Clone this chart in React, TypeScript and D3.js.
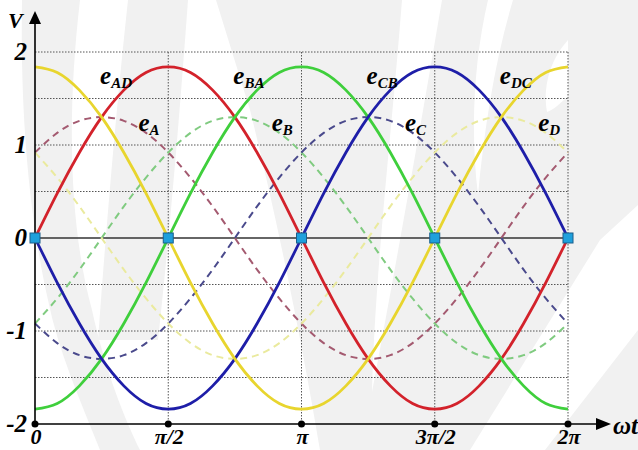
import React from "react";
import * as d3 from "d3";

// Phase angles sampled every π/12 over one period (0 … 2π)
const STEPS = 24;
const theta = d3.range(STEPS + 1).map((k) => (k * Math.PI) / 12);

// Line-to-line voltages (solid curves)
const eAD = [0, 0.48, 0.92, 1.3, 1.59, 1.78, 1.84, 1.78, 1.59, 1.3, 0.92, 0.48, 0, -0.48, -0.92, -1.3, -1.59, -1.78, -1.84, -1.78, -1.59, -1.3, -0.92, -0.48, 0];
const eBA = [-1.84, -1.78, -1.59, -1.3, -0.92, -0.48, 0, 0.48, 0.92, 1.3, 1.59, 1.78, 1.84, 1.78, 1.59, 1.3, 0.92, 0.48, 0, -0.48, -0.92, -1.3, -1.59, -1.78, -1.84];
const eCB = [0, -0.48, -0.92, -1.3, -1.59, -1.78, -1.84, -1.78, -1.59, -1.3, -0.92, -0.48, 0, 0.48, 0.92, 1.3, 1.59, 1.78, 1.84, 1.78, 1.59, 1.3, 0.92, 0.48, 0];
const eDC = [1.84, 1.78, 1.59, 1.3, 0.92, 0.48, 0, -0.48, -0.92, -1.3, -1.59, -1.78, -1.84, -1.78, -1.59, -1.3, -0.92, -0.48, 0, 0.48, 0.92, 1.3, 1.59, 1.78, 1.84];

// Phase voltages (dashed curves)
const eA = [0.92, 1.13, 1.26, 1.3, 1.26, 1.13, 0.92, 0.65, 0.34, 0, -0.34, -0.65, -0.92, -1.13, -1.26, -1.3, -1.26, -1.13, -0.92, -0.65, -0.34, 0, 0.34, 0.65, 0.92];
const eB = [-0.92, -0.65, -0.34, 0, 0.34, 0.65, 0.92, 1.13, 1.26, 1.3, 1.26, 1.13, 0.92, 0.65, 0.34, 0, -0.34, -0.65, -0.92, -1.13, -1.26, -1.3, -1.26, -1.13, -0.92];
const eC = [-0.92, -1.13, -1.26, -1.3, -1.26, -1.13, -0.92, -0.65, -0.34, 0, 0.34, 0.65, 0.92, 1.13, 1.26, 1.3, 1.26, 1.13, 0.92, 0.65, 0.34, 0, -0.34, -0.65, -0.92];
const eD = [0.92, 0.65, 0.34, 0, -0.34, -0.65, -0.92, -1.13, -1.26, -1.3, -1.26, -1.13, -0.92, -0.65, -0.34, 0, 0.34, 0.65, 0.92, 1.13, 1.26, 1.3, 1.26, 1.13, 0.92];

const yTicks = [2, 1, 0, -1, -2];
const yGrid = [2, 1.5, 1, 0.5, -0.5, -1, -1.5];
const xTickValues = [0, Math.PI / 2, Math.PI, (3 * Math.PI) / 2, 2 * Math.PI];
const xTickLabels = ["0", "π/2", "π", "3π/2", "2π"];

const solidSeries = [
  { name: "AD", values: eAD, color: "#d3222b" },
  { name: "BA", values: eBA, color: "#3fcf3c" },
  { name: "CB", values: eCB, color: "#1e1ea8" },
  { name: "DC", values: eDC, color: "#e8d52e" },
];
const dashedSeries = [
  { name: "A", values: eA, color: "#a45a70" },
  { name: "B", values: eB, color: "#80cb80" },
  { name: "C", values: eC, color: "#4a4a8c" },
  { name: "D", values: eD, color: "#eaea9e" },
];

const W = 638;
const H = 450;
const serif = "Liberation Serif, Times New Roman, Times, serif";

export default function App() {
  const x = d3.scaleLinear().domain([0, 2 * Math.PI]).range([35, 568]);
  const y = d3.scaleLinear().domain([-2, 2]).range([424, 52]);

  const line = (vals: number[]) =>
    d3
      .line<number>()
      .x((_, i) => x(theta[i]))
      .y((v) => y(v))
      .curve(d3.curveNatural)(vals) as string;

  const gridColor = "#555";
  const x0 = x(0);
  const x1 = x(2 * Math.PI);
  const textStyle = { fontFamily: serif, fontWeight: 700, fontStyle: "italic" } as const;

  return (
    <svg
      width={W}
      height={H}
      viewBox={`0 0 ${W} ${H}`}
      style={{ position: "absolute", left: 0, top: 0, background: "#fff" }}
    >
      {/* faint background watermark */}
      <g fill="#f1f1f1">
        <path d="M22 0 L80 0 C66 120 70 230 92 310 C105 370 125 420 140 450 L100 450 C80 400 58 350 48 300 C30 220 20 120 22 0 Z" />
        <path d="M128 0 L188 0 C180 110 170 230 158 340 L98 340 C106 230 116 110 128 0 Z" />
        <path d="M216 0 L638 0 L638 450 L320 450 C305 360 280 230 250 110 Z" />
      </g>
      <g fill="#fff">
        <path d="M402 0 L442 0 C420 130 395 270 372 392 C375 270 392 130 402 0 Z" />
        <path d="M488 0 L513 0 C495 60 484 130 478 195 C470 130 474 60 488 0 Z" />
        <path d="M568 40 L568 96 C560 104 553 110 547 112 C543 90 548 62 568 40 Z" />
        <path d="M600 240 L638 205 L638 330 L545 450 L470 450 Z" />
      </g>

      {/* dotted grid */}
      <g stroke={gridColor} strokeWidth={1} strokeDasharray="1.5,1.5" fill="none">
        {yGrid.map((v) => (
          <line key={`h${v}`} x1={x0} x2={x1} y1={y(v)} y2={y(v)} />
        ))}
        {xTickValues.slice(1).map((t) => (
          <line key={`v${t}`} x1={x(t)} x2={x(t)} y1={y(2)} y2={y(-2)} />
        ))}
      </g>

      {/* zero line */}
      <line x1={x0} x2={x1} y1={y(0)} y2={y(0)} stroke="#333" strokeWidth={1.3} />

      {/* phase voltages */}
      {dashedSeries.map((s) => (
        <path
          key={s.name}
          d={line(s.values)}
          fill="none"
          stroke={s.color}
          strokeWidth={2}
          strokeDasharray="7,5"
        />
      ))}

      {/* line voltages */}
      {solidSeries.map((s) => (
        <path key={s.name} d={line(s.values)} fill="none" stroke={s.color} strokeWidth={2.8} />
      ))}

      {/* axes */}
      <line x1={x0} x2={x0} y1={y(-2)} y2={22} stroke="#000" strokeWidth={1.6} />
      <path d={`M${x0} 11 L${x0 + 6} 24 L${x0 - 6} 24 Z`} fill="#000" />
      <line x1={x0} x2={597} y1={y(-2)} y2={y(-2)} stroke="#000" strokeWidth={1.6} />
      <path d={`M611 ${y(-2)} L596 ${y(-2) - 6} L596 ${y(-2) + 6} Z`} fill="#000" />

      {/* tick dots on the time axis */}
      {xTickValues.map((t) => (
        <circle key={`d${t}`} cx={x(t)} cy={y(-2)} r={3.5} fill="#000" />
      ))}

      {/* zero-crossing markers */}
      {xTickValues.map((t) => (
        <rect
          key={`m${t}`}
          x={x(t) - 5}
          y={y(0) - 5}
          width={10}
          height={10}
          fill="#1ea0dc"
          stroke="#1a5f8c"
          strokeWidth={1}
        />
      ))}

      {/* axis labels */}
      <g style={textStyle} fill="#000">
        <text x={8} y={28} fontSize={22}>V</text>
        {yTicks.map((v) => (
          <text key={`yl${v}`} x={27} y={y(v) + 8} fontSize={25} textAnchor="end">
            {v}
          </text>
        ))}
        {xTickValues.map((t, i) => (
          <text key={`xl${t}`} x={x(t) + 1} y={444} fontSize={22} textAnchor="middle">
            {xTickLabels[i]}
          </text>
        ))}
        <text x={613} y={434} fontSize={25}>ωt</text>
      </g>

      {/* curve names */}
      <g style={textStyle} fill="#000">
        {solidSeries.map((s, i) => (
          <text key={`sl${s.name}`} x={x(0.244 * Math.PI + (i * Math.PI) / 2)} y={y(1.66)} fontSize={25}>
            e<tspan fontSize={15} dy={4}>{s.name}</tspan>
          </text>
        ))}
        {dashedSeries.map((s, i) => (
          <text key={`dl${s.name}`} x={x(0.388 * Math.PI + (i * Math.PI) / 2)} y={y(1.15)} fontSize={25}>
            e<tspan fontSize={15} dy={4}>{s.name}</tspan>
          </text>
        ))}
      </g>
    </svg>
  );
}
